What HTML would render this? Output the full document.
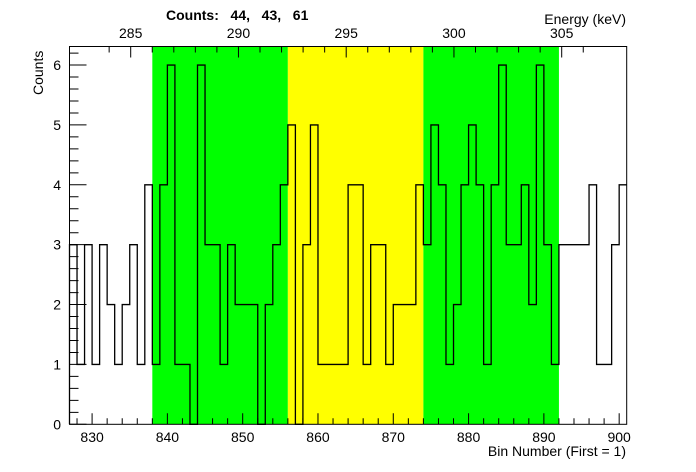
<!DOCTYPE html>
<html><head><meta charset="utf-8"><style>
body{margin:0;background:#fff;}
svg{display:block;font-family:"Liberation Sans",sans-serif;}
</style></head><body>
<svg id="chart" width="696" height="472">
<rect width="696" height="472" fill="#fff"/>
<g id="bands"></g><g id="hist"></g><g id="axes"></g>
<text x="166" y="20" font-size="14" font-weight="bold" style="white-space:pre" xml:space="preserve">Counts:   44,   43,   61</text>
<text x="626" y="24" font-size="14" text-anchor="end">Energy (keV)</text>
<text x="626" y="456" font-size="14" text-anchor="end">Bin Number (First = 1)</text>
<text transform="translate(43,95) rotate(-90)" font-size="14">Counts</text>
</svg>
<script>
const firstBin = 827;
const counts = [3,1,3,1,3,2,1,2,3,1,4,1,4,6,1,1,0,6,3,3,1,3,2,2,2,0,2,3,4,5,0,3,5,1,1,1,1,4,4,1,3,3,1,2,2,2,4,3,5,4,1,2,4,5,4,1,4,6,3,3,4,2,6,3,1,3,3,3,3,4,1,1,3,4];
const regionStarts = [838, 856, 874];
const regionEnds = [856, 874, 892];
const regionColors = ["#00ff00", "#ffff00", "#00ff00"];
const xTicks = [830,840,850,860,870,880,890,900];
const yTicks = [0,1,2,3,4,5,6];
const eTicks = [285,290,295,300,305];

const NS = "http://www.w3.org/2000/svg";
const L=69.5, R=626.7, T=46.5, B=424.3;
const xMin=827, xMax=901, yMin=0, yMax=6.31;
const X = v => L + (v-xMin)/(xMax-xMin)*(R-L);
const Y = v => B - (v-yMin)/(yMax-yMin)*(B-T);
const E = e => 130.7 + (e-285)*21.55;
function mk(tag, attrs, parent){const el=document.createElementNS(NS,tag);for(const k in attrs)el.setAttribute(k,attrs[k]);parent.appendChild(el);return el;}

const bands=document.getElementById('bands');
regionStarts.forEach((s,i)=>{
  const r=mk('rect',{x:X(s),y:T,width:X(regionEnds[i])-X(s),height:B-T,fill:regionColors[i]},bands);
  
  
});

let d="M"+X(firstBin)+","+Y(0);
counts.forEach((c,i)=>{d+=" L"+X(firstBin+i)+","+Y(c)+" L"+X(firstBin+i+1)+","+Y(c);});
const h=mk('path',{d:d,fill:"none",stroke:"#000","stroke-width":1.3},document.getElementById('hist'));



const ax=document.getElementById('axes');
const fr=mk('rect',{x:L,y:T,width:R-L,height:B-T,fill:"none",stroke:"#000","stroke-width":1},ax);


let td="";
for(let b=828;b<=900;b+=2){const len=(b%10===0)?11:6;td+=`M${X(b)},${B}v${-len}`;}
for(let v=0;v<=6.3;v+=0.2){const isM=Math.abs(v-Math.round(v))<1e-6;const len=isM?17:9;td+=`M${L},${Y(v)}h${len}`;}
for(let e=284;e<=306;e++){const x=E(e);if(x<L||x>R)continue;const len=(e%5===0)?11:6;td+=`M${x},${T}v${len}`;}
const tk=mk('path',{d:td,stroke:"#000","stroke-width":1,fill:"none"},ax);


xTicks.forEach(v=>{const t=mk('text',{x:X(v),y:442,"font-size":14,"text-anchor":"middle"},ax);t.textContent=v;
  
  });
yTicks.forEach(v=>{const t=mk('text',{x:61,y:Y(v)+5,"font-size":14,"text-anchor":"end"},ax);t.textContent=v;
  
  });
eTicks.forEach(v=>{const t=mk('text',{x:E(v),y:38,"font-size":14,"text-anchor":"middle"},ax);t.textContent=v;
  
  });
</script>
</body></html>
